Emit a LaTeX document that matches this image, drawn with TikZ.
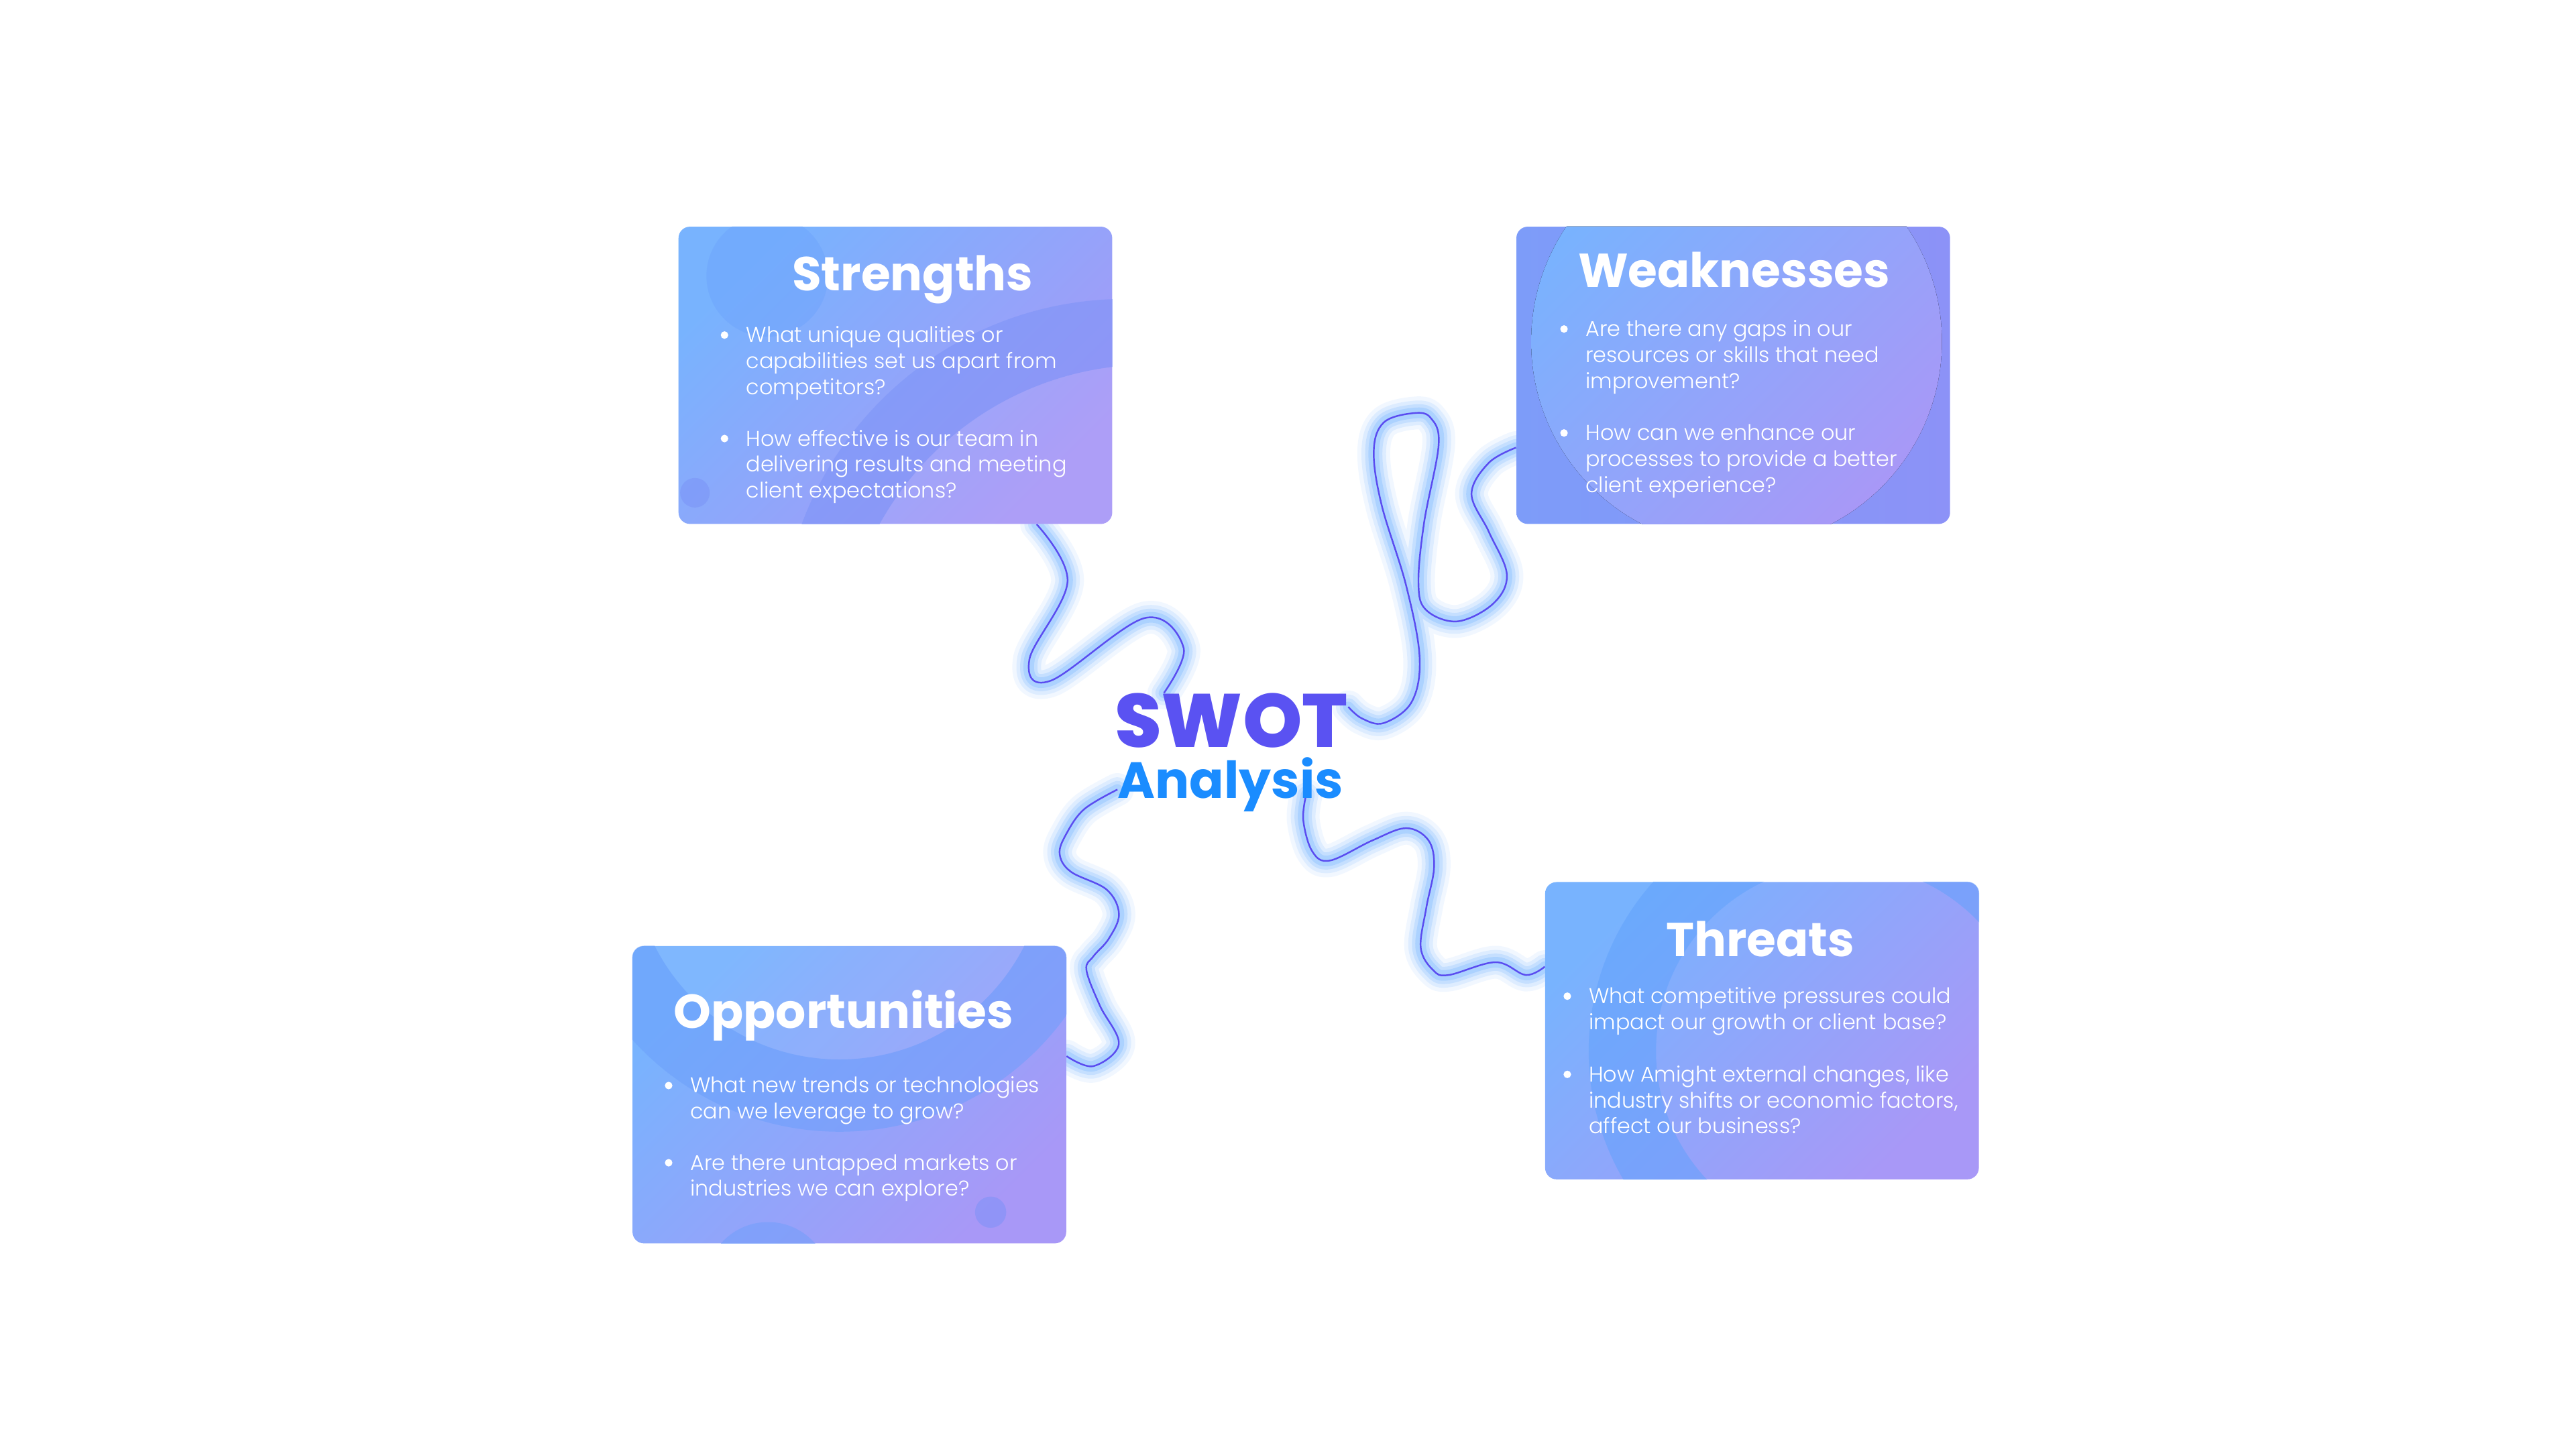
\documentclass[tikz,border=0pt]{standalone}
\usepackage{fontspec}
\setmainfont{Poppins}
\newfontfamily\poplight{Poppins Light}
\newfontfamily\popheavy{Poppins ExtraBold}
\usetikzlibrary{backgrounds}
\definecolor{boxblue}{HTML}{78B3FE}
\definecolor{boxlav}{HTML}{A898F7}
\definecolor{wkblue}{HTML}{7D9CF9}
\definecolor{wklav}{HTML}{8C92F7}
\definecolor{ringc}{HTML}{7A92F7}
\definecolor{dotc}{HTML}{6CA3FC}
\definecolor{oppring}{HTML}{6A9EFB}
\definecolor{thrring}{HTML}{5FA1FC}
\definecolor{glowc}{HTML}{8FC4FF}
\definecolor{wirec}{HTML}{5A4CF0}
\definecolor{swotc}{HTML}{5A52F2}
\definecolor{anac}{HTML}{1A8CFF}

\newcommand{\glowwire}[1]{%
  \foreach \w/\o in {20/0.12, 15/0.2, 10.5/0.3, 6.5/0.45}
    \draw[glowc, line width=\w pt, opacity=\o, line cap=round, line join=round]
      plot[smooth, tension=0.6] coordinates {#1};
  \draw[wirec, line width=1pt] plot[smooth, tension=0.6] coordinates {#1};}

\begin{document}
\begin{tikzpicture}[x=1pt,y=-1pt,
  box/.style={rounded corners=7pt, minimum width=264pt, minimum height=181pt,
    inner sep=0pt, left color=boxblue, right color=boxlav, shading angle=45},
  title/.style={anchor=base, inner sep=0pt, text=white,
    font=\fontsize{29}{30}\selectfont\bfseries},
  item/.style={anchor=base west, align=left, inner sep=0pt, text=white,
    font=\poplight\fontsize{13}{15.8}\selectfont}]

\useasboundingbox (0,0) rectangle (1568,882);

% centre
\node[anchor=base, inner sep=0pt, text=swotc, font=\popheavy\fontsize{46}{48}\selectfont] (swot) at (749.5,455) {SWOT};
\node[anchor=base, inner sep=0pt, text=anac, font=\fontsize{31}{33}\selectfont\bfseries] (ana) at (749,486) {Analysis};

% boxes
\node[box] (str) at (545,228.5) {};
\node[box, left color=wkblue, right color=wklav] (wk) at (1055,228.5) {};
\node[box] (opp) at (517,666.5) {};
\node[box] (thr) at (1072.5,627.5) {};

% strengths decor
\begin{scope}
\clip[rounded corners=7pt] (str.north west) rectangle (str.south east);
\fill[ringc, opacity=.5, even odd rule] (685,392) circle[radius=210] (700,410) circle[radius=188];
\fill[white, opacity=.06] (700,410) circle[radius=188];
\fill[dotc, opacity=.45] (467,168) circle[radius=37];
\fill[ringc, opacity=.5] (423,300) circle[radius=9];
\end{scope}

% weaknesses decor
\begin{scope}
\clip[rounded corners=7pt] (wk.north west) rectangle (wk.south east);
\fill[left color=boxblue, right color=boxlav, shading angle=45] (1057,208) circle[radius=125];
\end{scope}

% opportunities decor
\begin{scope}
\clip[rounded corners=7pt] (opp.north west) rectangle (opp.south east);
\fill[oppring, opacity=.5, even odd rule] (511,519) circle[radius=170] (511,519) circle[radius=126];
\fill[white, opacity=.06] (511,519) circle[radius=126];
\fill[ringc, opacity=.5] (603,738) circle[radius=9.5];
\fill[oppring, opacity=.45] (467.5,782) circle[radius=38];
\end{scope}

% threats decor
\begin{scope}
\clip[rounded corners=7pt] (thr.north west) rectangle (thr.south east);
\fill[thrring, opacity=.5, even odd rule] (1122,640) circle[radius=155] (1122,640) circle[radius=114];
\end{scope}

% titles
\node[title] (st-t) at (555.5,177) {Strengths};
\node[title] (wk-t) at (1055.5,175) {Weaknesses};
\node[title] (op-t) at (513.5,626) {Opportunities};
\node[title] (th-t) at (1071.5,582.4) {Threats};

% questions (placed at the baseline of their last line)
\node[item] (s1) at (454,240.1) {What unique qualities or\\capabilities set us apart from\\competitors?};
\node[item] (s2) at (454,303.1) {How effective is our team in\\delivering results and meeting\\client expectations?};
\node[item] (w1) at (965,236.4) {Are there any gaps in our\\resources or skills that need\\improvement?};
\node[item] (w2) at (965,299.7) {How can we enhance our\\processes to provide a better\\client experience?};
\node[item] (o1) at (420,681.2) {What new trends or technologies\\can we leverage to grow?};
\node[item] (o2) at (420,728.2) {Are there untapped markets or\\industries we can explore?};
\node[item] (t1) at (967,626.8) {What competitive pressures could\\impact our growth or client base?};
\node[item] (t2) at (967,690.2) {How Amight external changes, like\\industry shifts or economic factors,\\affect our business?};

\foreach \n/\k in {s1/2,s2/2,w1/2,w2/2,o1/1,o2/1,t1/1,t2/2}
  \fill[white] ([shift={(-13,-4.5-15.8*\k)}]\n.base west) circle[radius=2.3];

% wire ends
\coordinate (s-a) at ([xshift=86pt]str.south);
\coordinate (s-b) at ([xshift=-41pt]swot.north);
\coordinate (w-a) at ([yshift=-44pt]wk.west);
\coordinate (w-b) at ([yshift=-8.5pt]swot.north east);
\coordinate (o-a) at ([yshift=-3pt]ana.west);
\coordinate (o-b) at ([yshift=23.5pt]opp.east);
\coordinate (t-a) at ([xshift=46pt,yshift=2pt]ana.base);
\coordinate (t-b) at ([yshift=39pt]thr.west);

% glowing wires, behind boxes and text
\begin{pgfonlayer}{background}
\fill[white] (0,0) rectangle (1568,882);
\glowwire{(s-a) (649.8,354) (626.6,401.4) (639.6,414.4) (696.7,376.3) (720.5,394.6) (s-b)}
\glowwire{(w-a) (906.3,281.7) (895.7,300.7) (906.3,323.9) (917.2,349.7) (909,367.4) (887.2,378.3) (868.2,371.5) (863.4,355.2) (866.8,318.4) (875.7,270.8) (870.9,254.5) (860.7,251.5) (842.3,257.2) (836.2,274.9) (841,307.5) (855.9,356.5) (864.1,400.1) (859.3,427.3) (842.3,440.2) (829,437.4) (w-b)}
\glowwire{(o-a) (660,492.6) (649.1,507.6) (645,519.8) (651.8,530.7) (673.6,541.6) (681.1,556.5) (674.9,571.5) (665.4,582.4) (661.3,590.6) (669.5,612.3) (681,635.6) (665.4,649.1) (o-b)}
\glowwire{(t-a) (793.3,499.4) (798.8,518.4) (809.6,523.9) (835.5,511.6) (855.9,504.2) (869.5,511.6) (872.9,528) (868.2,552.5) (864.8,577) (872.3,590.6) (881.8,593.6) (910.4,585.8) (928.7,593.6) (t-b)}
\end{pgfonlayer}

\end{tikzpicture}
\end{document}
